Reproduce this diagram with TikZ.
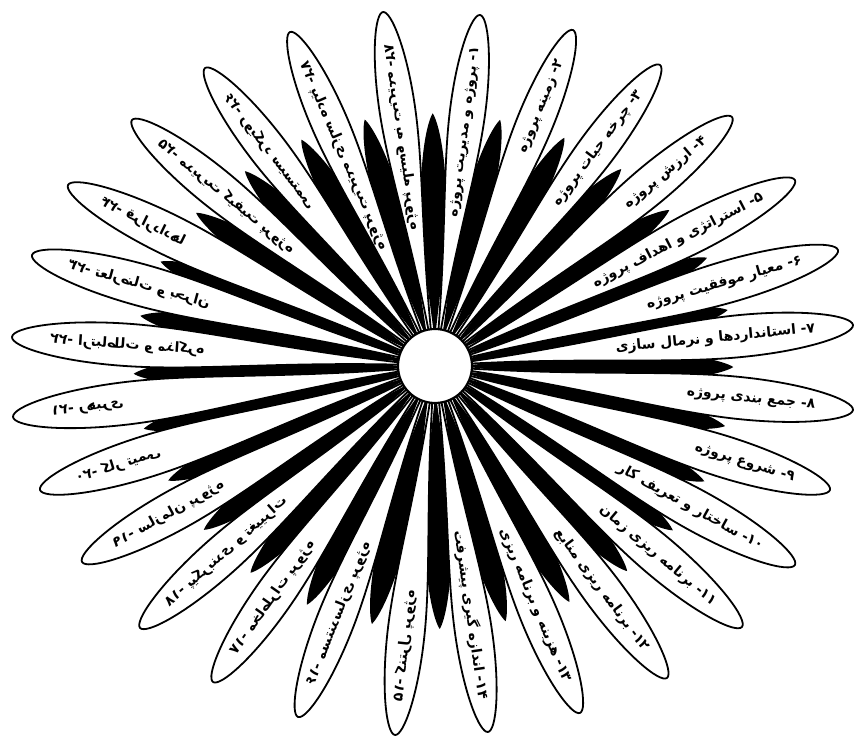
\documentclass[tikz,border=0pt]{standalone}
\usepackage{fontspec}
\newfontfamily\fa[Script=Arabic]{DejaVu Sans}
\TeXXeTstate=1
\def\cx{435}\def\cy{370}
\tikzset{
  ptext/.style={font=\fa\bfseries\fontsize{14}{14}\selectfont, inner sep=0pt},
  outl/.style={line width=1.8pt, line join=round}
}
\newcommand\petalgeo[2]{%
 \pgfmathsetmacro\pdx{#1-\cx}%
 \pgfmathsetmacro\pdy{736-#2-\cy}%
 \pgfmathsetmacro\pang{atan2(\pdy,\pdx)}%
 \pgfmathsetmacro\plen{veclen(\pdx,\pdy)}%
 \pgfmathsetmacro\pwd{0.05*\plen}}
\newcommand\whitepetal[3]{% #1 #2 tip, #3 style
 \petalgeo{#1}{#2}%
 \path[#3,shift={(\cx,\cy)},rotate=\pang] (8,0) .. controls (0.35*\plen,0.22*\pwd) and (0.55*\plen,\pwd) .. (0.73*\plen,\pwd)
   .. controls (0.89*\plen,\pwd) and (\plen,0.45*\pwd) .. (\plen,0)
   .. controls (\plen,-0.45*\pwd) and (0.89*\plen,-\pwd) .. (0.73*\plen,-\pwd)
   .. controls (0.55*\plen,-\pwd) and (0.35*\plen,-0.22*\pwd) .. (8,0) -- cycle;}
\newcommand\blackpetal[4]{%
 \pgfmathsetmacro\qxa{#1-\cx}\pgfmathsetmacro\qya{736-#2-\cy}%
 \pgfmathsetmacro\qxb{#3-\cx}\pgfmathsetmacro\qyb{736-#4-\cy}%
 \pgfmathsetmacro\qla{veclen(\qxa,\qya)}\pgfmathsetmacro\qlb{veclen(\qxb,\qyb)}%
 \pgfmathsetmacro\qux{\qxa/\qla+\qxb/\qlb}\pgfmathsetmacro\quy{\qya/\qla+\qyb/\qlb}%
 \pgfmathsetmacro\bang{atan2(\quy,\qux)}%
 \pgfmathsetmacro\blen{0.71*(\qla+\qlb)/2}%
 \pgfmathsetmacro\bwd{0.05*\blen}%
 \fill[black,shift={(\cx,\cy)},rotate=\bang] (25,0) .. controls (0.3*\blen,0.45*\bwd) and (0.45*\blen,\bwd) .. (0.65*\blen,\bwd)
   .. controls (0.85*\blen,\bwd) and (0.97*\blen,0.4*\bwd) .. (\blen,0)
   .. controls (0.97*\blen,-0.4*\bwd) and (0.85*\blen,-\bwd) .. (0.65*\blen,-\bwd)
   .. controls (0.45*\blen,-\bwd) and (0.3*\blen,-0.45*\bwd) .. (25,0) -- cycle;}
\newcommand\rlabel[4]{%
 \petalgeo{#1}{#2}\pgfmathsetmacro\prr{0.91*\plen}%
 \pgfmathsetmacro\tx{\cx+\prr*cos(\pang)}\pgfmathsetmacro\ty{\cy+\prr*sin(\pang)}%
 \node[ptext,rotate=\pang,anchor=east] (t#3) at (\tx,\ty) {#4};}
\newcommand\llabel[4]{%
 \petalgeo{#1}{#2}\pgfmathsetmacro\prr{0.91*\plen}%
 \pgfmathsetmacro\tx{\cx+\prr*cos(\pang)}\pgfmathsetmacro\ty{\cy+\prr*sin(\pang)}%
 \node[ptext,rotate=\pang-180,xscale=-1,anchor=east] (t#3) at (\tx,\ty) {#4};}
\begin{document}
\begin{tikzpicture}[x=1pt,y=1pt]
\useasboundingbox (0,0) rectangle (855,736);
\fill[white] (0,0) rectangle (855,736);
\coordinate (C) at (\cx,\cy);
% black petals
\foreach \xa/\ya/\xb/\yb in {480/15/573/30, 573/30/660/65, 660/65/732/117, 732/117/795/180,
  795/180/838/250, 838/250/853/325, 853/325/853/410, 853/410/830/490, 830/490/795/565,
  795/565/742/627, 742/627/667/678, 667/678/580/713, 580/713/488/732, 488/732/395/735,
  395/735/298/717, 298/717/213/682, 213/682/140/628, 140/628/82/562, 82/562/40/490,
  40/490/13/417, 13/417/12/337, 12/337/32/255, 32/255/68/185, 68/185/132/120,
  132/120/205/68, 205/68/290/32, 290/32/383/12, 383/12/480/15}
  {\blackpetal{\xa}{\ya}{\xb}{\yb}}
% white petals
\foreach \x/\y in {480/15, 573/30, 660/65, 732/117, 795/180, 838/250, 853/325, 853/410,
  830/490, 795/565, 742/627, 667/678, 580/713, 488/732, 395/735, 298/717, 213/682,
  140/628, 82/562, 40/490, 13/417, 12/337, 32/255, 68/185, 132/120, 205/68, 290/32, 383/12}
  {\whitepetal{\x}{\y}{fill=white}}
\foreach \x/\y in {480/15, 573/30, 660/65, 732/117, 795/180, 838/250, 853/325, 853/410,
  830/490, 795/565, 742/627, 667/678, 580/713, 488/732, 395/735, 298/717, 213/682,
  140/628, 82/562, 40/490, 13/417, 12/337, 32/255, 68/185, 132/120, 205/68, 290/32, 383/12}
  {\whitepetal{\x}{\y}{draw=black,outl}}
% labels
\rlabel{480}{15}{1}{\beginR\beginL۱\endL- پروژه و مدیریت پروژه\endR}
\rlabel{573}{30}{2}{\beginR\beginL۲\endL- زمینه پروژه\endR}
\rlabel{660}{65}{3}{\beginR\beginL۳\endL- چرخه حیات پروژه\endR}
\rlabel{732}{117}{4}{\beginR\beginL۴\endL- ارزش پروژه\endR}
\rlabel{795}{180}{5}{\beginR\beginL۵\endL- استراتژی و اهداف پروژه\endR}
\rlabel{838}{250}{6}{\beginR\beginL۶\endL- معیار موفقیت پروژه\endR}
\rlabel{853}{325}{7}{\beginR\beginL۷\endL- استانداردها و نرمال سازی\endR}
\rlabel{853}{410}{8}{\beginR\beginL۸\endL- جمع بندی پروژه\endR}
\rlabel{830}{490}{9}{\beginR\beginL۹\endL- شروع پروژه\endR}
\rlabel{795}{565}{10}{\beginR\beginL۱۰\endL- ساختار و تعریف کار\endR}
\rlabel{742}{627}{11}{\beginR\beginL۱۱\endL- برنامه ریزی زمان\endR}
\rlabel{667}{678}{12}{\beginR\beginL۱۲\endL- برنامه ریزی منابع\endR}
\rlabel{580}{713}{13}{\beginR\beginL۱۳\endL- هزینه و برنامه ریزی\endR}
\rlabel{488}{732}{14}{\beginR\beginL۱۴\endL- اندازه گیری پیشرفت\endR}
\llabel{395}{735}{15}{\beginR\beginL۱۵\endL- کنترل پروژه\endR}
\llabel{298}{717}{16}{\beginR\beginL۱۶\endL- مستندسازی پروژه\endR}
\llabel{213}{682}{17}{\beginR\beginL۱۷\endL- مخاطرات پروژه\endR}
\llabel{140}{628}{18}{\beginR\beginL۱۸\endL- پیکربندی و تغییرات\endR}
\llabel{82}{562}{19}{\beginR\beginL۱۹\endL- سازمان پروژه\endR}
\llabel{40}{490}{20}{\beginR\beginL۲۰\endL- کار تیمی\endR}
\llabel{13}{417}{21}{\beginR\beginL۲۱\endL- رهبری\endR}
\llabel{12}{337}{22}{\beginR\beginL۲۲\endL- ارتباطات و مذاکره\endR}
\llabel{32}{255}{23}{\beginR\beginL۲۳\endL- تعارضات و بحران\endR}
\llabel{68}{185}{24}{\beginR\beginL۲۴\endL- قراردادها\endR}
\llabel{132}{120}{25}{\beginR\beginL۲۵\endL- مدیریت کیفیت پروژه\endR}
\llabel{205}{68}{26}{\beginR\beginL۲۶\endL- رویکرد سیستمی\endR}
\llabel{290}{32}{27}{\beginR\beginL۲۷\endL- پیاده سازی مدیریت پروژه\endR}
\llabel{383}{12}{28}{\beginR\beginL۲۸\endL- مدیریت به وسیله پروژه\endR}
% centre
\node[circle, draw=black, fill=white, line width=2.2pt, minimum size=74pt, inner sep=0pt] (ctr) at (C) {};
\end{tikzpicture}
\end{document}
